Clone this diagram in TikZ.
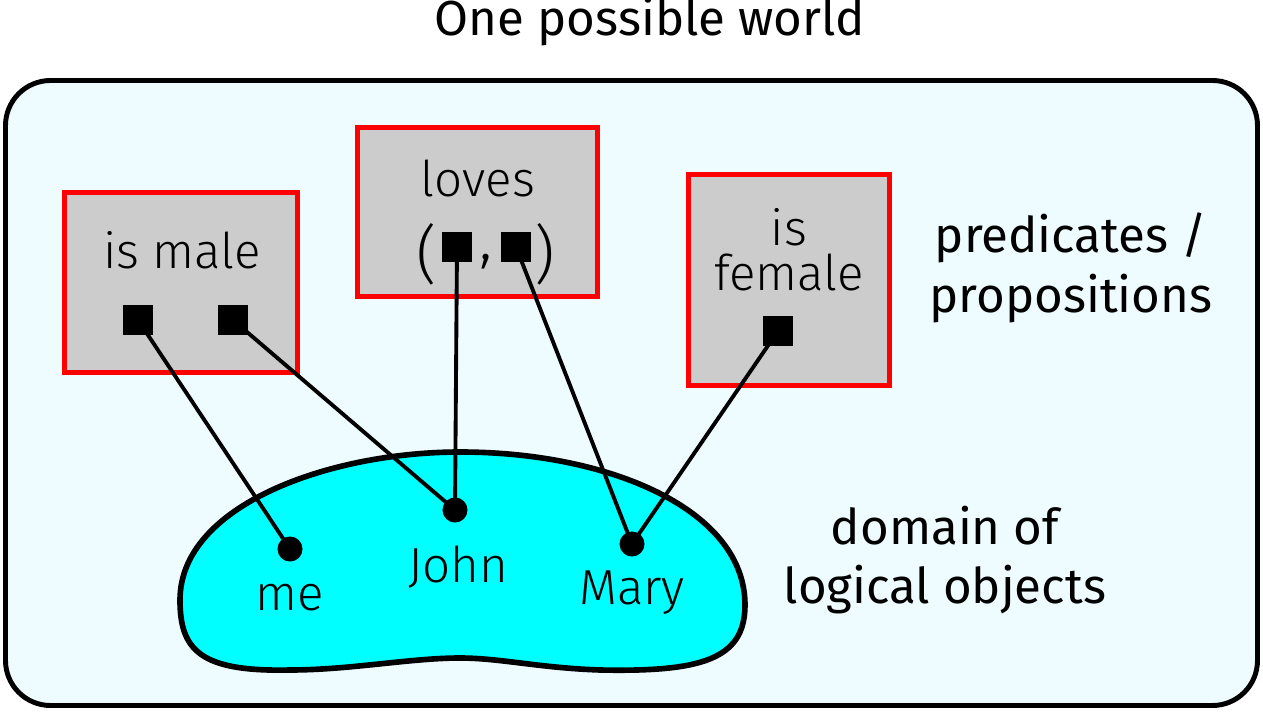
\documentclass[tikz,border=0pt]{standalone}
\usepackage{fontspec}
\setmainfont{Fira Sans}
\newfontfamily\lightfont{Fira Sans Light}
\usetikzlibrary{positioning}
\definecolor{worldbg}{RGB}{238,251,255}
\definecolor{predgray}{RGB}{204,204,204}
\definecolor{domaincyan}{RGB}{0,255,255}
\tikzset{
  predbox/.style={draw=red, fill=predgray, line width=1.4pt, inner sep=0pt},
  argsq/.style={fill=black, minimum size=0.3cm, inner sep=0pt},
  objdot/.style={circle, fill=black, minimum size=0.25cm, inner sep=0pt},
  thin label/.style={font=\lightfont\fontsize{14}{12.8}\selectfont, align=center, inner sep=0pt},
  paren label/.style={font=\lightfont\fontsize{18}{18}\selectfont, inner sep=0pt},
  side label/.style={font=\fontsize{14}{17}\selectfont, align=center, inner sep=0pt},
  link/.style={black, line width=1.1pt}
}

\begin{document}
\begin{tikzpicture}[x=0.01cm, y=-0.01cm]
\useasboundingbox (0,0) rectangle (1263,712);
\node[side label] (title) at (650,22) {One possible world};
\draw[black, line width=1.4pt, fill=worldbg, rounded corners=0.45cm] (5.5,80.5) rectangle (1257.5,705.5);
% predicate boxes
\node[predbox, minimum width=2.33cm, minimum height=1.80cm] (male) at (181,282.5) {};
\node[predbox, minimum width=2.40cm, minimum height=1.69cm] (loves) at (477.5,212) {};
\node[predbox, minimum width=2.01cm, minimum height=2.11cm] (female) at (789,280) {};
\node[thin label] (malet) at (182,250) {is male};
\node[thin label] (lovest) at (478,178) {loves};
\node[thin label] (femalet) at (789,250) {is\\female};
\node[paren label] (lparen) at (427,254) {(};
\node[paren label] (comma) at (486,262) {,};
\node[paren label] (rparen) at (545,254) {)};
% domain
\draw[black, line width=1.6pt, fill=domaincyan] (180,600)
  .. controls (180,505) and (330,452) .. (460,452)
  .. controls (610,452) and (745,510) .. (745,605)
  .. controls (745,660) and (700,672) .. (600,670)
  .. controls (540,668) and (500,658) .. (460,658)
  .. controls (410,658) and (350,670) .. (290,670)
  .. controls (200,672) and (180,650) .. (180,600);
\node[objdot] (me) at (290,549) {};
\node[objdot] (john) at (455,510) {};
\node[objdot] (mary) at (632,544) {};
\node[thin label] (met) at (290,598) {me};
\node[thin label] (johnt) at (458,567) {John};
\node[thin label] (maryt) at (632,593) {Mary};
% argument slots
\node[argsq] (male1) at (138,320) {};
\node[argsq] (male2) at (233,320) {};
\node[argsq] (loves1) at (457,247) {};
\node[argsq] (loves2) at (516,247) {};
\node[argsq] (female1) at (778,331) {};
\draw[link] (male1.center) -- (me.center);
\draw[link] (male2.center) -- (john.center);
\draw[link] (loves1.center) -- (john.center);
\draw[link] (loves2.center) -- (mary.center);
\draw[link] (female1.center) -- (mary.center);
\node[side label] (predt) at (1071,268) {predicates /\\propositions};
\node[side label] (domt) at (945,560) {domain of\\logical objects};
\end{tikzpicture}
\end{document}
